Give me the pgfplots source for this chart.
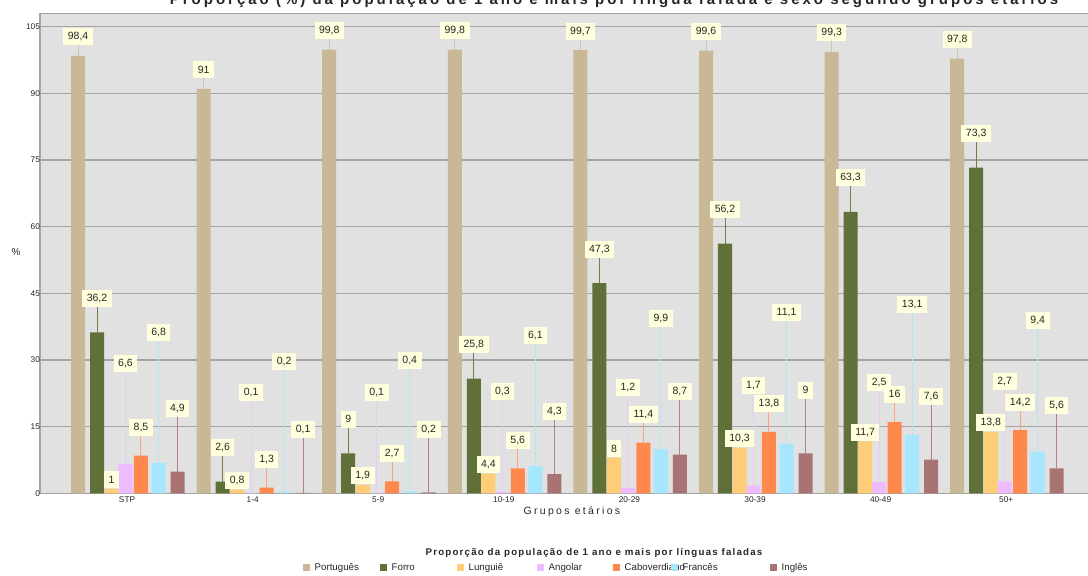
\documentclass[border=0pt]{standalone}
\usepackage{fontspec}
\setmainfont{Liberation Sans}
\newfontfamily\spacedA[LetterSpace=20]{Liberation Sans}
\newfontfamily\spacedB[LetterSpace=12.5]{Liberation Sans}
\newfontfamily\spacedC[LetterSpace=22]{Liberation Sans}
\usepackage{pgfplots}
\usepackage{pgfplotstable}
\pgfplotsset{compat=1.18}

\definecolor{cPort}{HTML}{C9B896}
\definecolor{cForro}{HTML}{5F7139}
\definecolor{cLung}{HTML}{FFCC77}
\definecolor{cAng}{HTML}{EFBBFF}
\definecolor{cCabo}{HTML}{FF884D}
\definecolor{cFran}{HTML}{A6E7FF}
\definecolor{cIng}{HTML}{A87373}
\definecolor{lPort}{HTML}{D2C4A6}
\definecolor{lForro}{HTML}{6E7E4C}
\definecolor{lLung}{HTML}{FFD890}
\definecolor{lAng}{HTML}{EEC8F6}
\definecolor{lCabo}{HTML}{FFA274}
\definecolor{lFran}{HTML}{B2E6F4}
\definecolor{lIng}{HTML}{AE8282}
\definecolor{labelbg}{HTML}{FFFFDD}
\definecolor{plotbg}{HTML}{E1E1E1}
\definecolor{gridgray}{HTML}{A4A4A4}
\definecolor{txtgray}{HTML}{262626}

% percentage of population aged 1+ by spoken language and age group
\pgfplotstableread{
x Port Forro Lung Ang Cabo Fran Ing
0 98.4 36.2 1    6.6 8.5  6.8  4.9
1 91   2.6  0.8  0.1 1.3  0.2  0.1
2 99.8 9    1.9  0.1 2.7  0.4  0.2
3 99.8 25.8 4.4  0.3 5.6  6.1  4.3
4 99.7 47.3 8    1.2 11.4 9.9  8.7
5 99.6 56.2 10.3 1.7 13.8 11.1 9
6 99.3 63.3 11.7 2.5 16   13.1 7.6
7 97.8 73.3 13.8 2.7 14.2 9.4  5.6
}\datatable

\pgfplotsset{
  legsq/.style={legend image code/.code={\fill[##1,draw=none] (0pt,-3.5pt) rectangle (7pt,3.5pt);}},
  serie/.style n args={5}{
    fill=#1, draw=none, bar shift=#2, legsq,
    nodes near coords style={yshift=#4pt},
    error bars/.cd, y dir=plus, y fixed=#3, error mark=none,
    error bar style={color=#5, line width=1pt}
  },
}

\begin{document}
\begin{tikzpicture}[x=1pt,y=1pt]
\useasboundingbox (0pt,0pt) rectangle (1088pt,576pt);
\clip (0pt,0pt) rectangle (1088pt,576pt);
\node[anchor=base, text=txtgray, font=\fontsize{15}{17}\selectfont\spacedA\bfseries]
  at (614pt,571.5pt) {Proporção (\%) da população de 1 ano e mais por língua falada e sexo segundo grupos etários};
\node[anchor=base, text=txtgray, font=\fontsize{9.7}{11}\selectfont\spacedB\bfseries]
  at (594pt,20.5pt) {Proporção da população de 1 ano e mais por línguas faladas};
\begin{axis}[
  at={(40pt,82.7pt)}, anchor=south west,
  scale only axis, width=1053.3pt, height=480pt,
  xmin=-0.693, xmax=7.693, ymin=0, ymax=108,
  axis background/.style={fill=plotbg},
  axis line style={gridgray, line width=1.5pt},
  ymajorgrids, grid style={gridgray, line width=1.5pt},
  major tick length=0pt,
  ytick={0,15,...,105},
  xtick={0,...,7},
  xticklabels={STP,1-4,5-9,10-19,20-29,30-39,40-49,50+},
  tick label style={font=\fontsize{8.3}{10}\selectfont, text=txtgray},
  yticklabel style={xshift=3.5pt},
  xticklabel style={yshift=0.5pt},
  /pgf/number format/assume math mode=true,
  ylabel={\%},
  ylabel style={rotate=-90, at={(axis description cs:-0.0228,0.5027)}, anchor=center, font=\fontsize{10}{12}\selectfont, text=txtgray},
  xlabel={\spacedC Grupos etários},
  xlabel style={at={(axis description cs:0.505,-0.0452)}, anchor=base, font=\fontsize{10.5}{12}\selectfont, text=txtgray},
  ybar, bar width=0.1115,
  nodes near coords={\pgfmathprintnumber[fixed,precision=1,use comma,assume math mode=true]{\pgfplotspointmeta}},
  every node near coord/.append style={anchor=center, fill=labelbg, inner xsep=4.5pt, inner ysep=0pt,
    minimum height=17pt, font=\fontsize{10.5}{12}\selectfont, text=txtgray},
  legend columns=7,
  legend style={at={(axis description cs:0.2494,-0.1553)}, anchor=west, draw=none, fill=none,
    inner sep=0pt, outer sep=0pt, font=\fontsize{9.7}{11}\selectfont, text=txtgray,
    /tikz/every even column/.append style={column sep=0pt},
    /tikz/every odd column/.append style={column sep=0pt},
    nodes={inner sep=0pt}},
]
\addplot[serie={cPort}{-0.390}{4.28}{19}{lPort}]   table[x=x,y=Port]  {\datatable};
\addlegendentry{\hspace{5pt}\makebox[65pt][l]{Português}}
\addplot[serie={cForro}{-0.239}{7.65}{34}{lForro}] table[x=x,y=Forro] {\datatable};
\addlegendentry{\hspace{5pt}\makebox[65pt][l]{Forro}}
\addplot[serie={cLung}{-0.123}{2.0}{9}{lLung}]     table[x=x,y=Lung]  {\datatable};
\addlegendentry{\hspace{5pt}\makebox[68pt][l]{Lunguiê}}
\addplot[serie={cAng}{-0.012}{22.5}{100}{lAng}]    table[x=x,y=Ang]   {\datatable};
\addlegendentry{\hspace{5pt}\makebox[64pt][l]{Angolar}}
\addplot[serie={cCabo}{0.111}{6.3}{28}{lCabo}]     table[x=x,y=Cabo]  {\datatable};
\addlegendentry{\hspace{5pt}\makebox[46pt][l]{Caboverdiano}}
\addplot[serie={cFran}{0.251}{29.5}{131}{lFran}]   table[x=x,y=Fran]  {\datatable};
\addlegendentry{\hspace{5pt}\makebox[87pt][l]{Francês}}
\addplot[serie={cIng}{0.402}{14.2}{63}{lIng}]      table[x=x,y=Ing]   {\datatable};
\addlegendentry{\hspace{5pt}\makebox[40pt][l]{Inglês}}
\end{axis}
\end{tikzpicture}
\end{document}
